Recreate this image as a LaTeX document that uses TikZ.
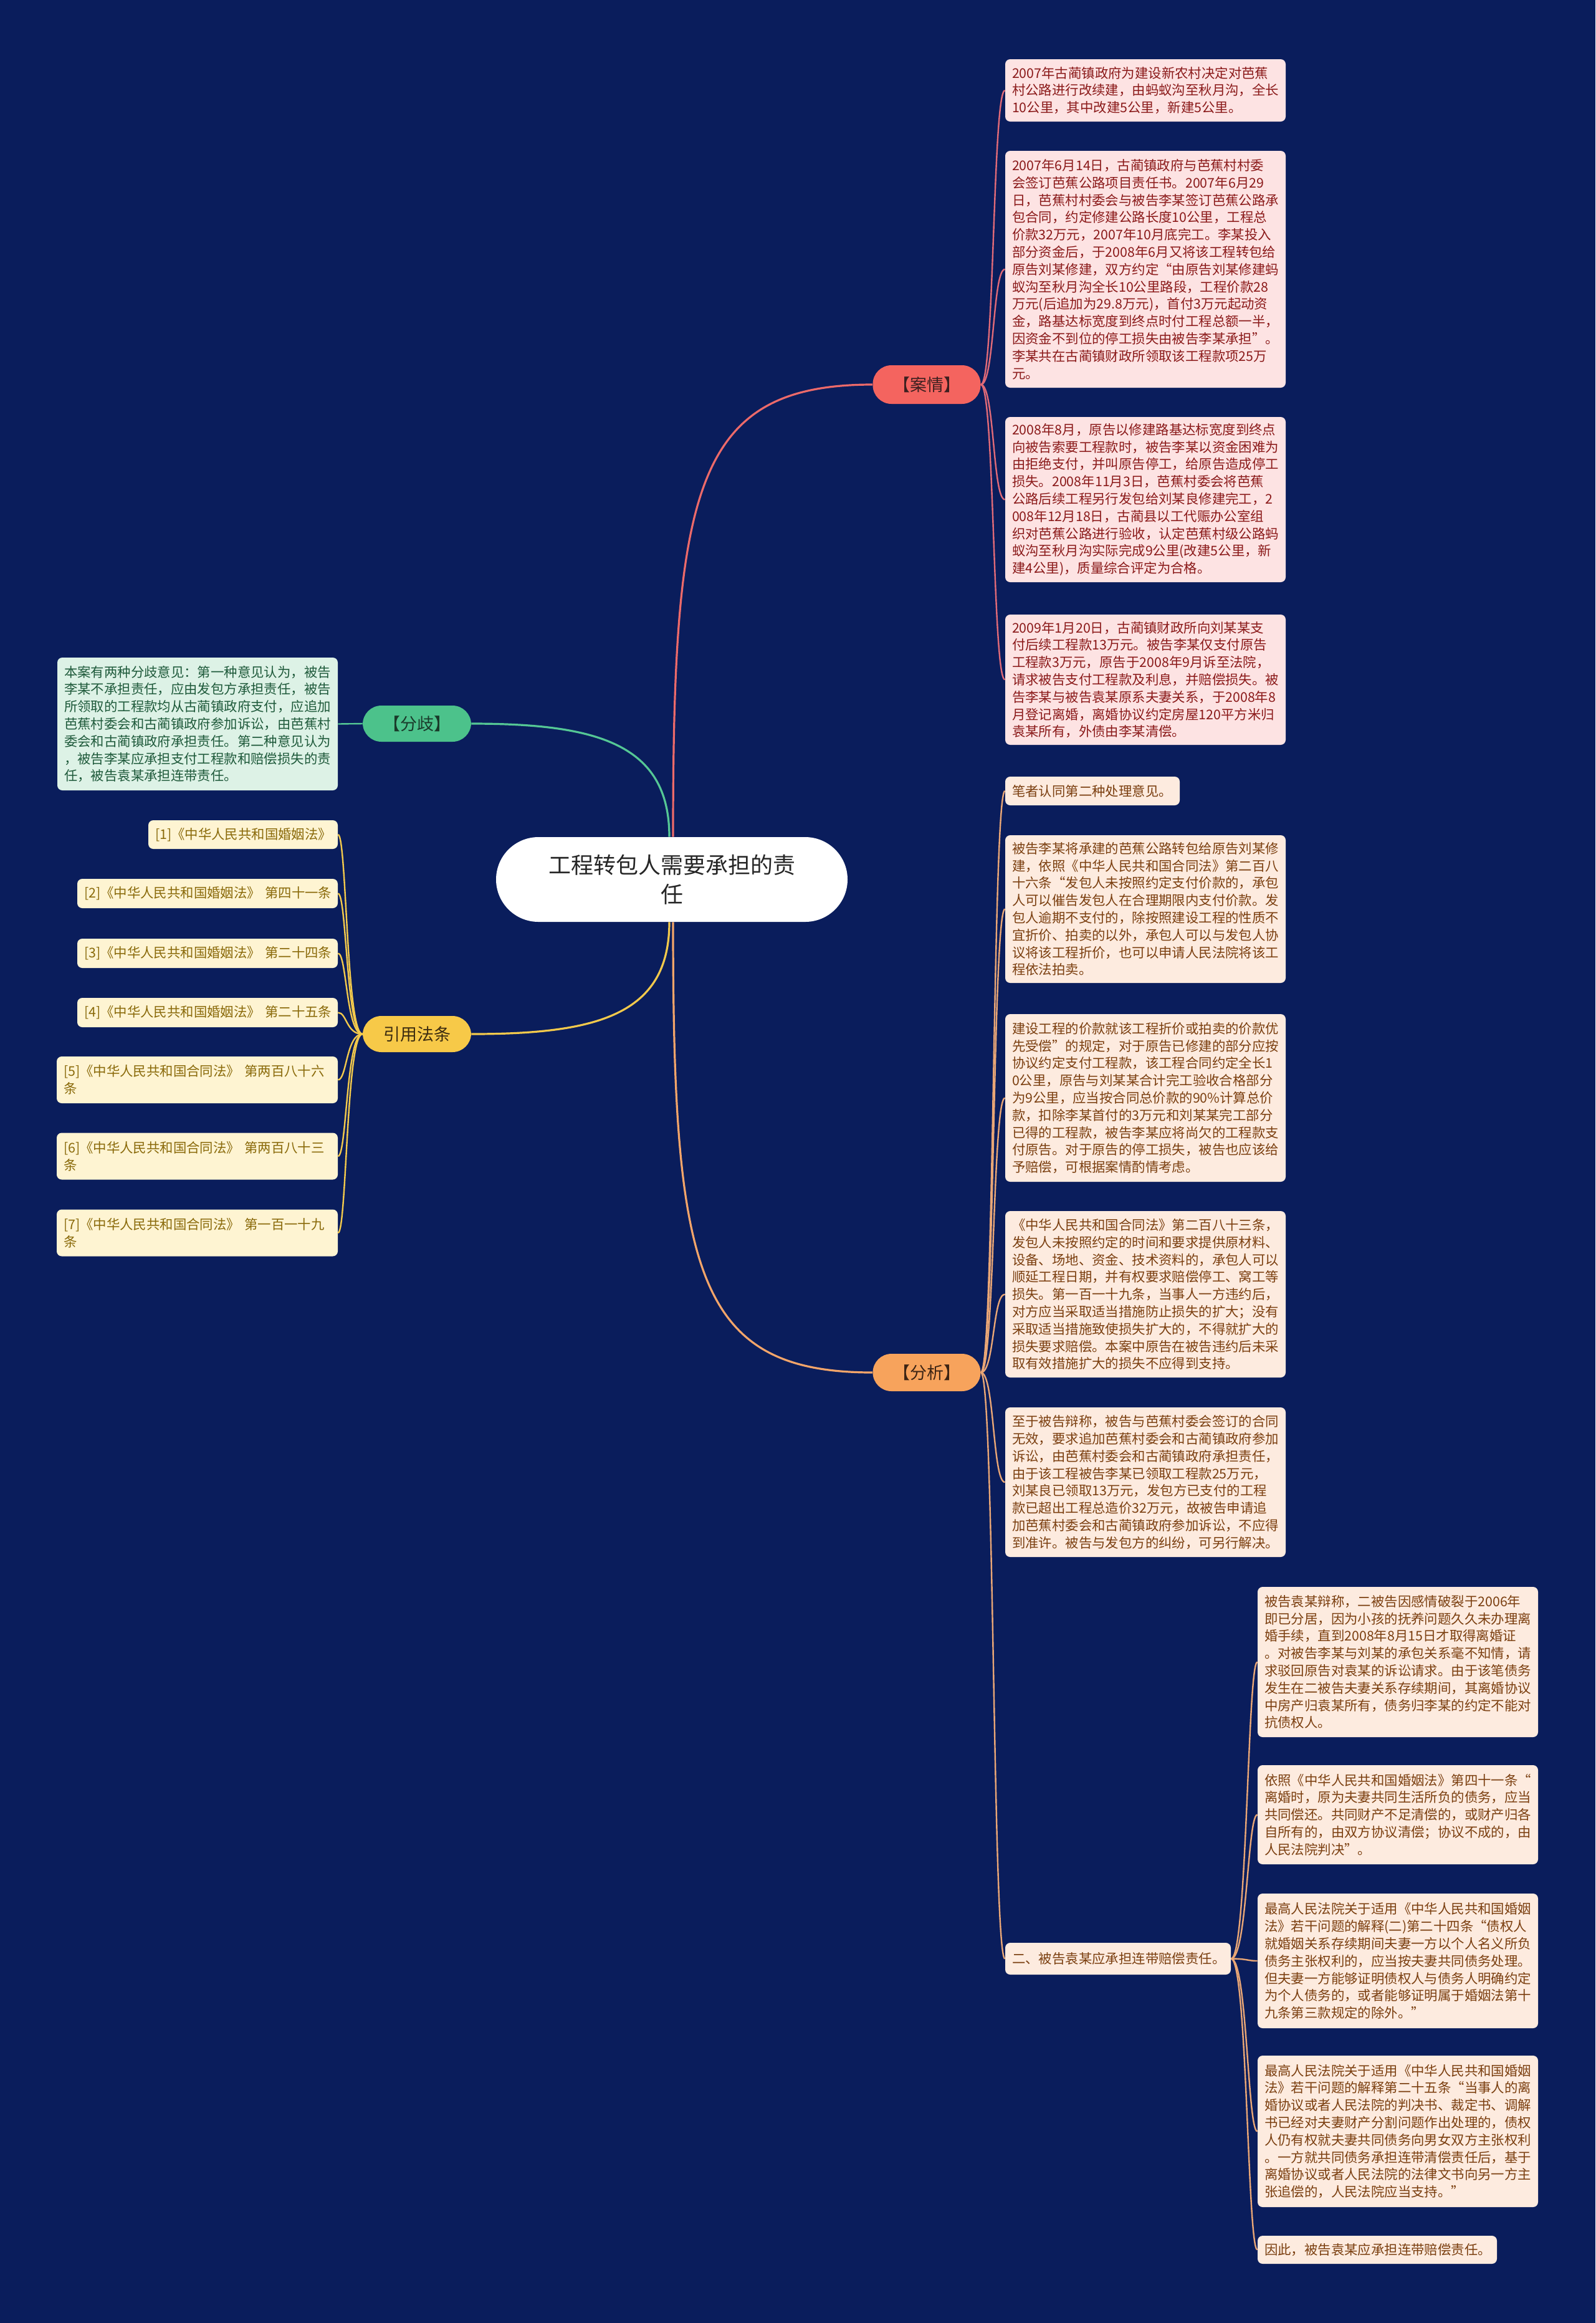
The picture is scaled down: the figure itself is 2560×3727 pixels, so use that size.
\documentclass[tikz,border=0pt]{standalone}
\usepackage{fontspec}
\setmainfont{Noto Sans CJK SC}
\definecolor{bg}{HTML}{0A1D5C}
\definecolor{rfill}{HTML}{FDE3E3}
\definecolor{rtext}{HTML}{8B1A1A}
\definecolor{rline}{HTML}{EC6A6A}
\definecolor{rleaf}{HTML}{E06A78}
\definecolor{rlab}{HTML}{F4645F}
\definecolor{rlabt}{HTML}{3C2020}
\definecolor{gfill}{HTML}{DDF2E6}
\definecolor{gtext}{HTML}{1F5A3B}
\definecolor{gline}{HTML}{55C795}
\definecolor{glab}{HTML}{4CC28B}
\definecolor{glabt}{HTML}{1A3A2A}
\definecolor{yfill}{HTML}{FEF4D2}
\definecolor{ytext}{HTML}{8A6A0A}
\definecolor{yline}{HTML}{F2C94C}
\definecolor{ylab}{HTML}{F7C948}
\definecolor{ylabt}{HTML}{3C2C10}
\definecolor{ofill}{HTML}{FDEBDF}
\definecolor{otext}{HTML}{7B3F10}
\definecolor{oline}{HTML}{F3A56A}
\definecolor{oleaf}{HTML}{E9A676}
\definecolor{olab}{HTML}{F7A35C}
\definecolor{olabt}{HTML}{3C2414}
\begin{document}
\begin{tikzpicture}[x=0.5pt,y=-0.5pt,
  leaf/.style={rounded corners=4pt, inner xsep=5.5pt, inner ysep=0pt, align=left,
    font=\fontsize{10.7pt}{13.9pt}\selectfont, anchor=center},
  leafR/.style={leaf, fill=rfill, text=rtext},
  leafG/.style={leaf, fill=gfill, text=gtext},
  leafY/.style={leaf, fill=yfill, text=ytext},
  leafO/.style={leaf, fill=ofill, text=otext},
  lab/.style={rounded corners=15pt, inner sep=0pt, align=center,
    font=\fontsize{13.5pt}{16pt}\selectfont},
  mainline/.style={line width=1.6pt},
  leafline/.style={line width=1.2pt}
]
\fill[bg] (0,0) rectangle (2560,3727);
\useasboundingbox (0,0) rectangle (2560,3727);

% center
\node[fill=white, rounded corners=34pt, minimum width=282pt, minimum height=68pt,
  align=center, inner sep=0pt, font=\fontsize{18pt}{23.5pt}\selectfont, text=black!85]
  (c) at (1078,1411) {工程转包人需要承担的责\\任};

% labels
\node[lab, fill=rlab, text=rlabt, minimum width=86.5pt, minimum height=31pt] (anq) at (1487,617) {【案情】};
\node[lab, fill=glab, text=glabt, minimum width=87pt, minimum height=29pt] (fq) at (669,1161) {【分歧】};
\node[lab, fill=ylab, text=ylabt, minimum width=87pt, minimum height=29pt] (yy) at (669,1659) {引用法条};
\node[lab, fill=olab, text=olabt, minimum width=86.5pt, minimum height=30pt] (anx) at (1487,2202) {【分析】};

% case facts
\node[leafR, text width=214pt, minimum height=50pt] (r1) at (1838,145) {2007年古蔺镇政府为建设新农村决定对芭蕉\\村公路进行改续建，由蚂蚁沟至秋月沟，全长\\10公里，其中改建5公里，新建5公里。};
\node[leafR, text width=214pt, minimum height=190pt] (r2) at (1838,432) {2007年6月14日，古蔺镇政府与芭蕉村村委\\会签订芭蕉公路项目责任书。2007年6月29\\日，芭蕉村村委会与被告李某签订芭蕉公路承\\包合同，约定修建公路长度10公里，工程总\\价款32万元，2007年10月底完工。李某投入\\部分资金后，于2008年6月又将该工程转包给\\原告刘某修建，双方约定“由原告刘某修建蚂\\蚁沟至秋月沟全长10公里路段，工程价款28\\万元(后追加为29.8万元)，首付3万元起动资\\金，路基达标宽度到终点时付工程总额一半，\\因资金不到位的停工损失由被告李某承担”。\\李某共在古蔺镇财政所领取该工程款项25万\\元。};
\node[leafR, text width=214pt, minimum height=132.5pt] (r3) at (1838,801.5) {2008年8月，原告以修建路基达标宽度到终点\\向被告索要工程款时，被告李某以资金困难为\\由拒绝支付，并叫原告停工，给原告造成停工\\损失。2008年11月3日，芭蕉村委会将芭蕉\\公路后续工程另行发包给刘某良修建完工，2\\008年12月18日，古蔺县以工代赈办公室组\\织对芭蕉公路进行验收，认定芭蕉村级公路蚂\\蚁沟至秋月沟实际完成9公里(改建5公里，新\\建4公里)，质量综合评定为合格。};
\node[leafR, text width=214pt, minimum height=104.5pt] (r4) at (1838,1090.5) {2009年1月20日，古蔺镇财政所向刘某某支\\付后续工程款13万元。被告李某仅支付原告\\工程款3万元，原告于2008年9月诉至法院，\\请求被告支付工程款及利息，并赔偿损失。被\\告李某与被告袁某原系夫妻关系，于2008年8\\月登记离婚，离婚协议约定房屋120平方米归\\袁某所有，外债由李某清偿。};

% divergence
\node[leafG, text width=214pt, minimum height=106.5pt] (g1) at (317,1161.5) {本案有两种分歧意见：第一种意见认为，被告\\李某不承担责任，应由发包方承担责任，被告\\所领取的工程款均从古蔺镇政府支付，应追加\\芭蕉村委会和古蔺镇政府参加诉讼，由芭蕉村\\委会和古蔺镇政府承担责任。第二种意见认为\\，被告李某应承担支付工程款和赔偿损失的责\\任，被告袁某承担连带责任。};

% laws
\node[leafY, text width=141pt, minimum height=23pt] (l1) at (390,1339) {[1]《中华人民共和国婚姻法》};
\node[leafY, text width=198pt, minimum height=23.5pt] (l2) at (333,1433.5) {[2]《中华人民共和国婚姻法》~第四十一条};
\node[leafY, text width=198pt, minimum height=23.5pt] (l3) at (333,1529.5) {[3]《中华人民共和国婚姻法》~第二十四条};
\node[leafY, text width=198pt, minimum height=23.5pt] (l4) at (333,1624.5) {[4]《中华人民共和国婚姻法》~第二十五条};
\node[leafY, text width=214.5pt, minimum height=37.5pt] (l5) at (316.5,1732.5) {[5]《中华人民共和国合同法》~第两百八十六\\条};
\node[leafY, text width=214.5pt, minimum height=37.5pt] (l6) at (316.5,1855) {[6]《中华人民共和国合同法》~第两百八十三\\条};
\node[leafY, text width=214.5pt, minimum height=37.5pt] (l7) at (316.5,1978) {[7]《中华人民共和国合同法》~第一百一十九\\条};

% analysis
\node[leafO, text width=129pt, minimum height=23pt] (a1) at (1753,1269) {笔者认同第二种处理意见。};
\node[leafO, text width=214pt, minimum height=118.5pt] (a2) at (1838,1458.5) {被告李某将承建的芭蕉公路转包给原告刘某修\\建，依照《中华人民共和国合同法》第二百八\\十六条“发包人未按照约定支付价款的，承包\\人可以催告发包人在合理期限内支付价款。发\\包人逾期不支付的，除按照建设工程的性质不\\宜折价、拍卖的以外，承包人可以与发包人协\\议将该工程折价，也可以申请人民法院将该工\\程依法拍卖。};
\node[leafO, text width=214pt, minimum height=134.5pt] (a3) at (1838,1761.5) {建设工程的价款就该工程折价或拍卖的价款优\\先受偿”的规定，对于原告已修建的部分应按\\协议约定支付工程款，该工程合同约定全长1\\0公里，原告与刘某某合计完工验收合格部分\\为9公里，应当按合同总价款的90\%计算总价\\款，扣除李某首付的3万元和刘某某完工部分\\已得的工程款，被告李某应将尚欠的工程款支\\付原告。对于原告的停工损失，被告也应该给\\予赔偿，可根据案情酌情考虑。};
\node[leafO, text width=214pt, minimum height=133.5pt] (a4) at (1838,2076.5) {《中华人民共和国合同法》第二百八十三条，\\发包人未按照约定的时间和要求提供原材料、\\设备、场地、资金、技术资料的，承包人可以\\顺延工程日期，并有权要求赔偿停工、窝工等\\损失。第一百一十九条，当事人一方违约后，\\对方应当采取适当措施防止损失的扩大；没有\\采取适当措施致使损失扩大的，不得就扩大的\\损失要求赔偿。本案中原告在被告违约后未采\\取有效措施扩大的损失不应得到支持。};
\node[leafO, text width=214pt, minimum height=120pt] (a5) at (1838,2378) {至于被告辩称，被告与芭蕉村委会签订的合同\\无效，要求追加芭蕉村委会和古蔺镇政府参加\\诉讼，由芭蕉村委会和古蔺镇政府承担责任，\\由于该工程被告李某已领取工程款25万元，\\刘某良已领取13万元，发包方已支付的工程\\款已超出工程总造价32万元，故被告申请追\\加芭蕉村委会和古蔺镇政府参加诉讼，不应得\\到准许。被告与发包方的纠纷，可另行解决。};
\node[leafO, text width=170pt, minimum height=25.5pt] (a6) at (1794,3142.5) {二、被告袁某应承担连带赔偿责任。};

% sub items of a6
\node[leafO, text width=214pt, minimum height=120.5pt] (e1) at (2243,2666.5) {被告袁某辩称，二被告因感情破裂于2006年\\即已分居，因为小孩的抚养问题久久未办理离\\婚手续，直到2008年8月15日才取得离婚证\\。对被告李某与刘某的承包关系毫不知情，请\\求驳回原告对袁某的诉讼请求。由于该笔债务\\发生在二被告夫妻关系存续期间，其离婚协议\\中房产归袁某所有，债务归李某的约定不能对\\抗债权人。};
\node[leafO, text width=214pt, minimum height=79.5pt] (e2) at (2243,2911.5) {依照《中华人民共和国婚姻法》第四十一条“\\离婚时，原为夫妻共同生活所负的债务，应当\\共同偿还。共同财产不足清偿的，或财产归各\\自所有的，由双方协议清偿；协议不成的，由\\人民法院判决”。};
\node[leafO, text width=214pt, minimum height=108pt] (e3) at (2243,3146) {最高人民法院关于适用《中华人民共和国婚姻\\法》若干问题的解释(二)第二十四条“债权人\\就婚姻关系存续期间夫妻一方以个人名义所负\\债务主张权利的，应当按夫妻共同债务处理。\\但夫妻一方能够证明债权人与债务人明确约定\\为个人债务的，或者能够证明属于婚姻法第十\\九条第三款规定的除外。”};
\node[leafO, text width=214pt, minimum height=121.5pt] (e4) at (2243,3419.5) {最高人民法院关于适用《中华人民共和国婚姻\\法》若干问题的解释第二十五条“当事人的离\\婚协议或者人民法院的判决书、裁定书、调解\\书已经对夫妻财产分割问题作出处理的，债权\\人仍有权就夫妻共同债务向男女双方主张权利\\。一方就共同债务承担连带清偿责任后，基于\\离婚协议或者人民法院的法律文书向另一方主\\张追偿的，人民法院应当支持。”};
\node[leafO, text width=181pt, minimum height=22.5pt] (e5) at (2210,3609.5) {因此，被告袁某应承担连带赔偿责任。};

% main branches
\draw[mainline, rline] ([xshift=1pt]c.north) .. controls +(0,-560) and +(-285,0) .. (anq.west);
\draw[mainline, gline] ([xshift=-2pt]c.north) .. controls +(0,-150) and +(200,0) .. (fq.east);
\draw[mainline, yline] ([xshift=-2pt]c.south) .. controls +(0,150) and +(200,0) .. (yy.east);
\draw[mainline, oline] ([xshift=1pt]c.south) .. controls +(0,560) and +(-285,0) .. (anx.west);

% leaf connectors
\foreach \n in {r1,r2,r3,r4}
  \draw[leafline, rleaf] (anq.east) .. controls +(22,0) and +(-20,0) .. (\n.west);
\foreach \n in {a1,a2,a3,a4,a5,a6}
  \draw[leafline, oleaf] (anx.east) .. controls +(22,0) and +(-20,0) .. (\n.west);
\foreach \n in {e1,e2,e3,e4,e5}
  \draw[leafline, oleaf] (a6.east) .. controls +(26,0) and +(-16,0) .. (\n.west);
\draw[leafline, gline] (fq.west) .. controls +(-20,0) and +(20,0) .. (g1.east);
\foreach \n in {l1,l2,l3,l4,l5,l6,l7}
  \draw[leafline, yline] (yy.west) .. controls +(-26,0) and +(14,0) .. (\n.east);
\end{tikzpicture}
\end{document}
